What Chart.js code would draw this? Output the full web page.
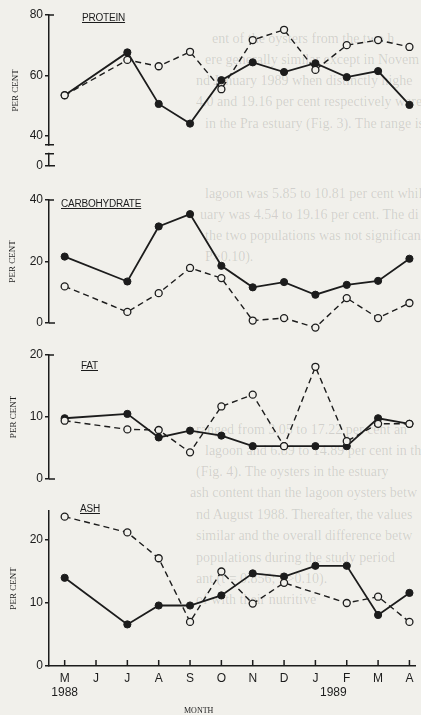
<!DOCTYPE html>
<html>
<head>
<meta charset="utf-8">
<script src="https://cdn.jsdelivr.net/npm/chart.js@4"></script>
<style>
  body { margin: 0; width: 421px; height: 715px; overflow: hidden; background: #f1f0eb; position: relative; }
  canvas { position: absolute; left: 0; }
  .ttl { position: absolute; font: 10px "Liberation Sans", sans-serif; color: #1c1c1c; text-decoration: underline; letter-spacing: -0.2px; }
  .lbl { position: absolute; color: #1c1c1c; }
  .bleed { position: absolute; font: 14px "Liberation Serif", serif; color: rgba(40, 40, 40, 0.16); white-space: nowrap; }
</style>
</head>
<body>
<div id="bleed"></div>

<canvas id="protein" width="421" height="175" style="top:0px"></canvas>
<canvas id="carb" width="421" height="150" style="top:185px"></canvas>
<canvas id="fat" width="421" height="150" style="top:340px"></canvas>
<canvas id="ash" width="421" height="220" style="top:495px"></canvas>

<div class="ttl" style="left:82px;top:12px">PROTEIN</div>
<div class="ttl" style="left:61px;top:198px">CARBOHYDRATE</div>
<div class="ttl" style="left:81px;top:360px">FAT</div>
<div class="ttl" style="left:80px;top:503px">ASH</div>
<div class="lbl" style="left:320px;top:685px;font:12px 'Liberation Sans',sans-serif">1989</div>
<div class="lbl" style="left:184px;top:706px;font:8px 'Liberation Serif',serif">MONTH</div>

<script>
// Proximate composition of oysters, lagoon (solid) vs estuary (dashed)
// May 1988 - April 1989, no sample in June

const months = ["M", "J", "J", "A", "S", "O", "N", "D", "J", "F", "M", "A"];

const proteinLagoon = [53.4, null, 67.6, 50.5, 44.0, 58.4, 64.3, 61.1, 64.0, 59.4, 61.4, 50.2];
const proteinEstuary = [53.4, null, 65.1, 63.0, 67.8, 55.4, 71.7, 75.1, 61.8, 70.0, 71.7, 69.4];

const carbLagoon = [21.6, null, 13.5, 31.4, 35.4, 18.6, 11.6, 13.3, 9.2, 12.4, 13.7, 20.9];
const carbEstuary = [11.9, null, 3.6, 9.7, 17.9, 14.6, 0.8, 1.6, -1.5, 8.1, 1.6, 6.5];

const fatLagoon = [9.8, null, 10.5, 6.7, 7.8, 7.0, 5.3, 5.3, 5.3, 5.3, 9.8, 8.9];
const fatEstuary = [9.4, null, 8.0, 7.9, 4.3, 11.7, 13.6, 5.3, 18.1, 6.1, 8.9, 8.9];

const ashLagoon = [14.0, null, 6.6, 9.6, 9.6, 11.2, 14.7, 14.2, 15.9, 15.9, 8.1, 11.6];
const ashEstuary = [23.7, null, 21.2, 17.1, 7.0, 15.0, 9.9, 13.2, null, 10.0, 11.0, 7.0];

// text showing through from the other side of the page
const bleedLines = [
  [212, 31, "ent of the oysters from the two h"],
  [205, 52, "ere generally similar except in Novem"],
  [196, 73, "nd January 1989 when distinctly highe"],
  [196, 94, "4.0 and 19.16 per cent respectively were"],
  [205, 116, "in the Pra estuary (Fig. 3).  The range is"],
  [205, 186, "lagoon was 5.85 to 10.81 per cent while t"],
  [200, 207, "uary was 4.54 to 19.16 per cent. The di"],
  [205, 228, "the two populations was not significant"],
  [205, 249, "P>0.10)."],
  [196, 422, "ranged from 3.05 to 17.22 per cent an"],
  [205, 443, "lagoon and 6.89 to 14.89 per cent in the"],
  [196, 464, "(Fig. 4). The oysters in the estuary"],
  [190, 485, "ash content than the lagoon oysters betw"],
  [196, 507, "nd August 1988. Thereafter, the values"],
  [196, 528, "similar and the overall difference betw"],
  [196, 550, "populations during the study period"],
  [196, 571, "ant (t = 0.856; P>0.10)."],
  [196, 592, "of with their nutritive"],
];

const ink = "#1c1c1c";
const paper = "#f1f0eb";

const bleed = document.querySelector("#bleed");
bleedLines.forEach(([x, y, t]) => {
  const d = document.createElement("div");
  d.className = "bleed";
  d.style.left = x + "px";
  d.style.top = y + "px";
  d.textContent = t;
  bleed.appendChild(d);
});

function points(values) {
  return values.map((v, idx) => ({ x: idx, y: v }));
}

function seriesPair(lagoon, estuary) {
  return [
    {
      label: "Estuary",
      data: points(estuary),
      borderColor: ink,
      borderWidth: 1.4,
      borderDash: [6, 4],
      pointRadius: 3.5,
      pointBorderWidth: 1.3,
      pointBackgroundColor: paper,
      pointBorderColor: ink,
      spanGaps: true,
      clip: false,
      tension: 0,
    },
    {
      label: "Lagoon",
      data: points(lagoon),
      borderColor: ink,
      borderWidth: 1.8,
      pointRadius: 3.6,
      pointBorderWidth: 1,
      pointBackgroundColor: ink,
      pointBorderColor: ink,
      spanGaps: true,
      clip: false,
      tension: 0,
    },
  ];
}

function yAxis(min, max, tickValues, titlePad, zeroAt) {
  return {
    type: "linear",
    min: min,
    max: max,
    afterBuildTicks: (axis) => {
      axis.ticks = tickValues.map((v) => ({ value: v }));
    },
    afterFit: (axis) => {
      axis.width = 49;
    },
    border: { color: ink, width: 1.5 },
    grid: { drawOnChartArea: false, tickLength: 4, color: ink, lineWidth: 1.5 },
    ticks: {
      color: ink,
      padding: 2,
      font: { family: "Liberation Sans", size: 12 },
      callback: (v) => (v === zeroAt ? "0" : v),
    },
    title: {
      display: true,
      text: "PER CENT",
      color: ink,
      font: { family: "Liberation Serif", size: 9 },
      padding: { top: titlePad, bottom: 0 },
    },
  };
}

const xHidden = { type: "linear", min: -0.5, max: 11.2, display: false };

const axisMarks = {
  id: "axisMarks",
  afterDraw(chart, args, opts) {
    const { ctx, chartArea, scales } = chart;
    const left = chartArea.left;
    ctx.save();
    ctx.strokeStyle = ink;
    ctx.lineWidth = 1.5;
    ctx.beginPath();
    if (opts.stubs) {
      ctx.moveTo(left, chartArea.bottom);
      ctx.lineTo(left + 6, chartArea.bottom);
      ctx.moveTo(left, chartArea.top);
      ctx.lineTo(left + 5, chartArea.top);
    }
    if (opts.breakAt) {
      const y1 = scales.y.getPixelForValue(opts.breakAt[0]);
      const y2 = scales.y.getPixelForValue(opts.breakAt[1]);
      ctx.fillStyle = paper;
      ctx.fillRect(left - 2, y1 + 1, 4, y2 - y1 - 2);
      ctx.moveTo(left - 4, y1);
      ctx.lineTo(left + 5, y1);
      ctx.moveTo(left - 4, y2);
      ctx.lineTo(left + 5, y2);
    }
    if (opts.monthTicks) {
      months.forEach((m, i) => {
        const x = scales.x.getPixelForValue(i);
        ctx.moveTo(x, chartArea.bottom);
        ctx.lineTo(x, chartArea.bottom - 6);
      });
    }
    ctx.stroke();
    ctx.restore();
  },
};

function makeChart(id, lagoon, estuary, y, x, padding, marks) {
  return new Chart(document.querySelector(id), {
    type: "line",
    data: { datasets: seriesPair(lagoon, estuary) },
    options: {
      responsive: false,
      animation: false,
      layout: { padding: padding },
      scales: { x: x, y: y },
      plugins: {
        legend: { display: false },
        tooltip: { enabled: false },
        axisMarks: marks,
      },
    },
    plugins: [axisMarks],
  });
}

makeChart(
  "#protein", proteinLagoon, proteinEstuary,
  yAxis(30, 80, [30, 40, 60, 80], 10, 30),
  xHidden,
  { top: 15, bottom: 7, left: 0, right: 0 },
  { stubs: true, breakAt: [37, 34] }
);

makeChart(
  "#carb", carbLagoon, carbEstuary,
  yAxis(0, 40, [0, 20, 40], 7, 0),
  xHidden,
  { top: 15, bottom: 12, left: 0, right: 0 },
  { stubs: true }
);

makeChart(
  "#fat", fatLagoon, fatEstuary,
  yAxis(0, 20, [0, 10, 20], 8, 0),
  xHidden,
  { top: 15, bottom: 11, left: 0, right: 0 },
  { stubs: true }
);

makeChart(
  "#ash", ashLagoon, ashEstuary,
  yAxis(0, 24.6, [0, 10, 20], 8, 0),
  {
    type: "linear",
    min: -0.5,
    max: 11.2,
    afterBuildTicks: (axis) => {
      axis.ticks = months.map((m, i) => ({ value: i }));
    },
    afterFit: (axis) => {
      axis.height = 49;
    },
    border: { color: ink, width: 1.5 },
    grid: { display: false },
    ticks: {
      color: ink,
      padding: -3,
      autoSkip: false,
      maxRotation: 0,
      font: { family: "Liberation Sans", size: 12 },
      callback: (v, idx) => (idx === 0 ? [months[0], "1988"] : months[idx]),
    },
  },
  { top: 16, bottom: 0, left: 0, right: 0 },
  { monthTicks: true }
);
</script>
</body>
</html>
